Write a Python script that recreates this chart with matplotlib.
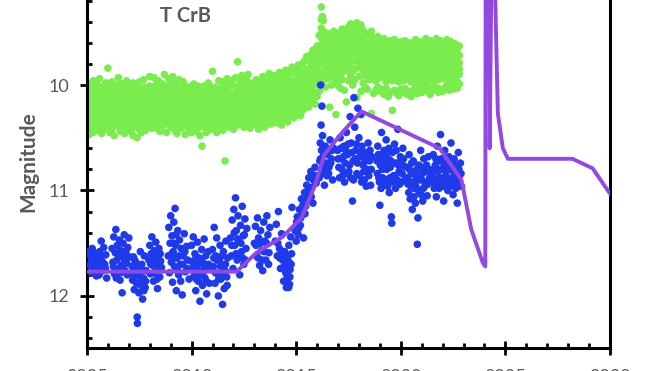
import matplotlib.pyplot as plt
from matplotlib.ticker import MultipleLocator, FormatStrFormatter

plt.rcParams['font.family'] = ['Lato', 'DejaVu Sans']

# green series: (year, several magnitudes observed around that time)
green_bins = [
    (2005.0, 10.03, 10.31, 10.18, 10.44, 10.09, 10.26), (2005.1, 10.21, 9.99, 10.37, 10.12, 10.28, 10.47),
    (2005.2, 10.15, 10.40, 10.06, 10.24, 10.33, 10.01), (2005.3, 10.27, 10.10, 10.45, 10.19, 9.96, 10.35),
    (2005.4, 10.08, 10.22, 10.30, 10.04, 10.41, 10.16), (2005.5, 10.34, 10.13, 10.00, 10.25, 10.43, 10.20),
    (2005.6, 10.19, 10.38, 10.07, 10.29, 10.11, 9.94), (2005.7, 10.02, 10.24, 10.36, 10.15, 10.46, 10.30),
    (2005.8, 10.26, 10.05, 10.17, 10.42, 10.32, 10.10), (2005.9, 10.12, 10.33, 9.98, 10.21, 10.39, 10.27),
    (2006.0, 9.84, 10.18, 10.04, 10.30, 10.14, 10.40), (2006.1, 10.23, 10.09, 10.35, 10.01, 10.28, 10.45),
    (2006.2, 10.06, 10.29, 10.16, 10.42, 9.97, 10.22), (2006.3, 10.31, 10.13, 10.39, 10.20, 10.05, 10.48),
    (2006.4, 10.17, 10.02, 10.26, 10.36, 10.10, 10.32), (2006.5, 10.00, 10.21, 10.12, 10.34, 10.27, 9.93),
    (2006.6, 10.28, 10.08, 10.40, 10.19, 10.44, 10.14), (2006.7, 10.11, 10.35, 9.99, 10.24, 10.06, 10.31),
    (2006.8, 10.20, 10.04, 10.33, 10.46, 10.15, 10.25), (2006.9, 9.96, 10.27, 10.09, 10.38, 10.18, 10.43),
    (2007.0, 10.14, 10.32, 10.01, 10.22, 10.41, 10.07), (2007.1, 10.25, 10.10, 10.44, 10.17, 10.30, 10.03),
    (2007.2, 10.05, 10.19, 10.36, 9.98, 10.28, 10.48), (2007.3, 10.30, 10.12, 10.23, 10.40, 10.07, 10.35),
    (2007.4, 10.16, 10.50, 10.02, 10.27, 10.38, 10.21), (2007.5, 10.09, 10.26, 10.42, 10.13, 9.97, 10.32),
    (2007.6, 10.22, 10.04, 10.34, 10.18, 10.45, 10.11), (2007.7, 9.95, 10.15, 10.29, 10.06, 10.39, 10.24),
    (2007.8, 10.18, 10.37, 10.08, 10.26, 10.02, 10.43), (2007.9, 10.27, 10.03, 10.20, 10.35, 10.13, 10.30),
    (2008.0, 10.01, 10.23, 10.11, 10.38, 10.17, 9.92), (2008.1, 10.14, 10.31, 10.05, 10.41, 10.24, 10.09),
    (2008.2, 10.29, 9.93, 10.18, 10.07, 10.35, 10.22), (2008.3, 10.06, 10.26, 10.39, 10.13, 10.00, 10.31),
    (2008.4, 10.20, 10.10, 9.96, 10.33, 10.16, 10.42), (2008.5, 10.12, 10.36, 10.24, 10.03, 10.44, 10.19),
    (2008.6, 9.99, 10.17, 10.30, 10.08, 10.27, 10.39), (2008.7, 10.23, 9.90, 10.13, 10.35, 10.05, 10.28),
    (2008.8, 10.08, 10.32, 10.19, 10.45, 10.01, 10.15), (2008.9, 10.26, 10.04, 10.37, 9.94, 10.21, 10.11),
    (2009.0, 10.13, 10.29, 10.00, 10.24, 10.40, 10.18), (2009.1, 9.92, 10.20, 10.07, 10.33, 10.14, 10.27),
    (2009.2, 10.17, 10.38, 9.98, 10.25, 10.09, 10.43), (2009.3, 10.04, 10.22, 10.46, 10.14, 10.31, 10.10),
    (2009.4, 10.28, 9.95, 10.16, 10.36, 10.06, 10.23), (2009.5, 10.11, 10.34, 10.02, 10.19, 10.41, 10.26),
    (2009.6, 10.21, 10.07, 10.29, 9.97, 10.38, 10.13), (2009.7, 10.01, 10.25, 10.47, 10.15, 10.33, 10.08),
    (2009.8, 10.30, 10.12, 10.04, 10.40, 10.20, 10.27), (2009.9, 10.16, 10.37, 10.09, 10.24, 10.02, 10.44),
    (2010.0, 10.07, 10.28, 10.45, 10.19, 10.35, 10.12), (2010.1, 10.24, 9.99, 10.15, 10.31, 10.06, 10.40),
    (2010.2, 10.13, 10.36, 10.21, 10.03, 10.44, 10.27), (2010.3, 10.32, 10.09, 10.26, 10.41, 10.17, 10.01),
    (2010.4, 10.05, 10.20, 10.38, 10.12, 10.48, 10.29), (2010.5, 10.18, 10.58, 10.04, 10.30, 10.23, 10.37),
    (2010.6, 10.27, 10.11, 10.40, 10.01, 10.19, 10.33), (2010.7, 10.09, 10.31, 10.16, 10.45, 10.06, 10.24),
    (2010.8, 10.22, 9.98, 10.35, 10.13, 10.28, 10.39), (2010.9, 10.14, 10.26, 10.03, 10.42, 10.19, 10.08),
    (2011.0, 9.87, 10.16, 10.30, 10.07, 10.38, 10.23), (2011.1, 10.20, 10.02, 10.27, 10.13, 10.41, 10.34),
    (2011.2, 10.06, 10.33, 10.18, 10.45, 10.10, 10.24), (2011.3, 10.29, 10.11, 9.96, 10.37, 10.21, 10.15),
    (2011.4, 10.03, 10.25, 10.40, 10.17, 10.31, 10.08), (2011.5, 10.18, 9.97, 10.34, 10.22, 10.12, 10.43),
    (2011.6, 10.26, 10.72, 10.05, 10.38, 10.15, 10.30), (2011.7, 10.10, 10.32, 10.21, 9.94, 10.36, 10.01),
    (2011.8, 10.23, 10.07, 10.40, 10.14, 10.28, 10.18), (2011.9, 9.96, 10.19, 10.30, 10.09, 10.37, 10.25),
    (2012.0, 10.13, 10.34, 10.01, 10.26, 10.17, 10.42), (2012.1, 10.28, 9.93, 10.20, 10.08, 10.36, 10.12),
    (2012.2, 9.78, 10.15, 10.02, 10.31, 10.22, 10.38), (2012.3, 10.09, 10.27, 9.96, 10.18, 10.35, 10.05),
    (2012.4, 10.21, 10.03, 10.33, 10.13, 9.91, 10.26), (2012.5, 10.00, 10.24, 10.40, 10.10, 10.30, 10.17),
    (2012.6, 10.16, 10.36, 10.06, 10.27, 9.95, 10.21), (2012.7, 10.25, 9.90, 10.12, 10.32, 10.04, 10.19),
    (2012.8, 10.07, 10.29, 10.18, 10.41, 10.11, 9.98), (2012.9, 10.19, 10.02, 10.35, 10.14, 10.26, 10.09),
    (2013.0, 9.99, 10.22, 10.10, 10.37, 10.16, 10.31), (2013.1, 10.27, 10.05, 10.19, 9.95, 10.33, 10.13),
    (2013.2, 10.11, 10.38, 10.01, 10.24, 10.42, 10.17), (2013.3, 10.20, 9.97, 10.30, 10.08, 10.15, 10.36),
    (2013.4, 10.04, 10.25, 10.14, 9.92, 10.33, 10.21), (2013.5, 10.30, 10.09, 10.40, 10.18, 9.99, 10.26),
    (2013.6, 10.15, 9.94, 10.22, 10.35, 10.07, 10.11), (2013.7, 9.89, 10.13, 10.28, 10.03, 10.19, 10.32),
    (2013.8, 10.24, 10.06, 9.97, 10.37, 10.15, 10.10), (2013.9, 10.12, 10.31, 9.91, 10.20, 10.04, 10.27),
    (2014.0, 9.98, 10.17, 10.34, 10.08, 10.25, 10.13), (2014.1, 10.21, 9.93, 10.11, 10.30, 10.02, 10.36),
    (2014.2, 10.06, 10.24, 9.88, 10.16, 10.29, 10.00), (2014.3, 10.18, 9.95, 10.33, 10.10, 10.38, 10.22),
    (2014.4, 9.90, 10.12, 10.27, 10.04, 10.19, 10.31), (2014.5, 10.15, 9.86, 10.08, 10.25, 9.99, 10.30),
    (2014.6, 10.02, 10.21, 9.93, 10.35, 10.12, 10.17), (2014.7, 9.87, 10.09, 10.26, 10.01, 10.18, 10.28),
    (2014.8, 10.13, 9.83, 10.04, 10.22, 9.96, 10.27), (2014.9, 9.97, 10.16, 9.89, 10.31, 10.08, 10.20),
    (2015.0, 10.06, 9.85, 10.24, 10.12, 9.98, 10.28), (2015.1, 9.92, 10.10, 9.81, 10.19, 10.03, 10.25),
    (2015.2, 10.14, 9.96, 10.07, 9.87, 10.29, 10.20), (2015.3, 9.80, 10.02, 10.17, 9.93, 10.24, 10.09),
    (2015.4, 10.05, 9.77, 9.98, 10.14, 9.90, 10.22), (2015.5, 9.85, 10.08, 9.73, 10.19, 9.96, 10.02),
    (2015.6, 9.99, 9.76, 10.12, 9.89, 10.05, 10.21), (2015.7, 9.71, 9.93, 10.07, 9.82, 10.16, 10.00),
    (2015.8, 9.88, 9.67, 10.02, 9.79, 9.95, 10.14), (2015.9, 9.75, 9.97, 9.69, 10.08, 9.86, 10.18),
    (2016.0, 9.63, 9.84, 9.99, 9.74, 10.11, 9.92), (2016.1, 9.80, 9.53, 9.95, 9.68, 10.06, 9.88),
    (2016.2, 9.26, 9.46, 9.62, 9.38, 9.80, 9.55), (2016.25, 9.35, 9.72, 9.50, 9.88, 9.61, 9.97),
    (2016.3, 9.58, 9.39, 9.77, 9.49, 9.92, 9.68), (2016.4, 9.66, 9.55, 9.85, 9.73, 10.02, 9.60),
    (2016.5, 9.78, 9.51, 9.94, 9.64, 9.86, 9.58), (2016.6, 9.57, 9.80, 9.69, 10.21, 9.91, 9.63),
    (2016.7, 9.70, 9.52, 9.88, 9.61, 10.00, 9.76), (2016.8, 9.49, 9.74, 9.59, 9.93, 9.67, 9.84),
    (2016.9, 9.63, 9.55, 9.81, 10.28, 9.72, 9.96), (2017.0, 9.51, 9.77, 9.65, 9.90, 9.58, 10.00),
    (2017.1, 9.69, 9.56, 9.84, 9.73, 10.03, 9.62), (2017.2, 9.47, 9.70, 9.59, 9.88, 9.79, 9.95),
    (2017.3, 9.64, 9.53, 9.76, 10.05, 9.68, 9.85), (2017.4, 9.50, 9.72, 9.60, 9.86, 10.16, 9.79),
    (2017.5, 9.66, 9.45, 9.81, 9.57, 9.96, 9.71), (2017.6, 9.42, 9.63, 9.74, 9.54, 9.90, 9.83),
    (2017.7, 9.58, 9.48, 9.77, 9.67, 10.00, 9.87), (2017.8, 9.69, 9.44, 9.61, 9.85, 9.53, 9.95),
    (2017.9, 9.41, 9.62, 9.50, 9.78, 10.12, 9.70), (2018.0, 9.57, 9.46, 9.73, 9.64, 9.92, 9.81),
    (2018.1, 9.43, 9.66, 9.55, 9.84, 10.06, 9.75), (2018.2, 9.60, 9.48, 9.79, 9.69, 9.98, 9.86),
    (2018.3, 9.73, 9.52, 9.64, 9.91, 9.58, 10.02), (2018.4, 9.56, 9.80, 9.67, 9.88, 10.04, 9.74),
    (2018.5, 9.68, 9.51, 9.85, 9.61, 9.95, 9.77), (2018.6, 9.49, 9.72, 9.62, 10.27, 9.83, 9.93),
    (2018.7, 9.64, 9.55, 9.82, 9.71, 10.08, 9.90), (2018.8, 9.78, 9.59, 9.68, 9.96, 9.86, 10.05),
    (2018.9, 9.54, 9.75, 9.64, 9.89, 10.02, 9.70), (2019.0, 9.69, 9.57, 9.84, 9.77, 10.06, 9.93),
    (2019.1, 9.61, 9.82, 9.72, 10.04, 9.90, 9.66), (2019.2, 9.76, 9.56, 9.67, 9.93, 10.09, 9.85),
    (2019.3, 9.59, 9.80, 9.70, 9.97, 9.64, 10.03), (2019.4, 9.73, 9.62, 9.87, 9.79, 10.11, 9.95),
    (2019.5, 9.58, 9.78, 9.68, 10.07, 9.90, 9.83), (2019.6, 9.66, 9.85, 9.75, 10.24, 9.62, 9.96),
    (2019.7, 9.79, 9.57, 9.70, 9.92, 10.05, 9.86), (2019.8, 9.61, 9.82, 9.73, 10.08, 9.95, 9.67),
    (2019.9, 9.74, 9.64, 9.88, 9.80, 10.10, 9.97), (2020.0, 9.59, 9.77, 9.68, 9.93, 10.04, 9.85),
    (2020.1, 9.70, 9.62, 9.84, 9.76, 10.07, 9.96), (2020.2, 9.82, 9.58, 9.72, 9.91, 9.66, 10.03),
    (2020.3, 9.63, 9.80, 9.74, 10.09, 9.88, 9.95), (2020.4, 9.76, 9.60, 9.69, 9.93, 10.06, 9.84),
    (2020.5, 9.65, 9.86, 9.78, 10.11, 9.97, 9.71), (2020.6, 9.80, 9.61, 9.73, 9.90, 10.05, 9.84),
    (2020.7, 9.57, 9.75, 9.66, 9.87, 10.02, 9.94), (2020.8, 9.72, 9.62, 9.85, 9.79, 10.08, 9.96),
    (2020.9, 9.83, 9.59, 9.70, 9.92, 9.65, 10.04), (2021.0, 9.64, 9.81, 9.76, 10.07, 9.89, 9.98),
    (2021.1, 9.77, 9.60, 9.71, 9.94, 10.05, 9.86), (2021.2, 9.56, 9.74, 9.66, 9.88, 10.01, 9.80),
    (2021.3, 9.70, 9.61, 9.84, 9.77, 10.06, 9.95), (2021.4, 9.82, 9.58, 9.73, 9.91, 10.09, 9.67),
    (2021.5, 9.63, 9.79, 9.70, 9.97, 9.87, 10.03), (2021.6, 9.75, 9.59, 9.68, 9.90, 10.05, 9.84),
    (2021.7, 9.56, 9.72, 9.81, 9.64, 10.02, 9.93), (2021.8, 9.69, 9.61, 9.86, 9.76, 10.07, 9.95),
    (2021.9, 9.80, 9.58, 9.72, 9.89, 10.04, 9.66), (2022.0, 9.63, 9.77, 9.70, 9.94, 10.06, 9.85),
    (2022.1, 9.74, 9.60, 9.83, 9.68, 10.03, 9.92), (2022.2, 9.57, 9.79, 9.71, 9.88, 10.00, 9.64),
    (2022.3, 9.69, 9.62, 9.86, 9.78, 10.05, 9.95), (2022.4, 9.81, 9.59, 9.73, 9.91, 10.02, 9.66),
    (2022.5, 9.64, 9.77, 9.70, 9.97, 9.86, 10.04), (2022.6, 9.72, 9.61, 9.89, 9.80, 10.01, 9.93),
    (2022.7, 9.66, 9.84, 9.75, 9.97, 10.03, 9.70), (2022.8, 9.79, 9.63, 9.72, 9.90, 9.99, 9.85),
]

# blue series: (year, magnitude)
blue_points = [
    (2005.13, 11.57), (2005.15, 11.71), (2005.18, 11.62), (2005.22, 11.78), (2005.25, 11.55),
    (2005.28, 11.66), (2005.33, 11.74), (2005.37, 11.60), (2005.42, 11.69), (2005.45, 11.81),
    (2005.50, 11.63), (2005.55, 11.72), (2005.60, 11.58), (2005.68, 11.48), (2005.72, 11.67),
    (2005.76, 11.76), (2005.80, 11.54), (2005.85, 11.70), (2005.90, 11.61), (2005.94, 11.83),
    (2006.20, 11.55), (2006.24, 11.68), (2006.28, 11.44), (2006.31, 11.79), (2006.35, 11.59),
    (2006.38, 11.37), (2006.42, 11.66), (2006.45, 11.52), (2006.48, 11.74), (2006.52, 11.62),
    (2006.55, 11.47), (2006.58, 11.85), (2006.62, 11.57), (2006.65, 11.71), (2006.68, 11.97),
    (2006.72, 11.50), (2006.75, 11.64), (2006.78, 11.42), (2006.82, 11.76), (2006.86, 11.58),
    (2006.90, 11.69), (2006.95, 11.54), (2007.00, 11.45), (2007.04, 11.63),
    (2007.15, 11.72), (2007.18, 11.85), (2007.22, 11.63), (2007.26, 11.94), (2007.30, 11.78),
    (2007.33, 11.68), (2007.37, 11.88), (2007.40, 12.20), (2007.41, 12.26), (2007.44, 11.81),
    (2007.48, 11.97), (2007.52, 11.74), (2007.55, 11.58), (2007.58, 11.90), (2007.62, 11.70),
    (2007.66, 12.03), (2007.70, 11.83), (2007.74, 11.62), (2007.78, 11.92), (2007.82, 11.76),
    (2007.96, 11.66), (2008.00, 11.52), (2008.03, 11.79), (2008.07, 11.60), (2008.10, 11.44),
    (2008.14, 11.71), (2008.18, 11.86), (2008.21, 11.57), (2008.25, 11.68), (2008.29, 11.49),
    (2008.33, 11.75), (2008.37, 11.93), (2008.40, 11.62), (2008.44, 11.55), (2008.48, 11.82),
    (2008.52, 11.67), (2008.56, 11.73),
    (2008.88, 11.62), (2008.91, 11.35), (2008.94, 11.78), (2008.97, 11.50), (2009.00, 11.24),
    (2009.03, 11.68), (2009.06, 11.43), (2009.09, 11.87), (2009.12, 11.58), (2009.15, 11.30),
    (2009.18, 11.72), (2009.21, 11.17), (2009.24, 11.52), (2009.27, 11.95), (2009.30, 11.64),
    (2009.34, 11.38), (2009.38, 11.80), (2009.42, 11.47), (2009.46, 11.70), (2009.50, 11.55),
    (2009.55, 11.99), (2009.60, 11.62), (2009.65, 11.41), (2009.70, 11.77), (2009.76, 11.53),
    (2009.82, 11.66), (2009.88, 11.84),
    (2010.00, 11.52), (2010.04, 11.68), (2010.08, 11.44), (2010.12, 11.81), (2010.16, 11.60),
    (2010.20, 11.95), (2010.24, 11.73), (2010.28, 11.49), (2010.32, 11.86), (2010.36, 11.64),
    (2010.40, 12.05), (2010.44, 11.77), (2010.48, 11.56), (2010.52, 11.90), (2010.56, 11.69),
    (2010.60, 11.46), (2010.64, 11.83), (2010.68, 11.62), (2010.72, 11.98), (2010.76, 11.74),
    (2010.80, 11.58), (2010.85, 11.88),
    (2011.00, 11.56), (2011.04, 11.72), (2011.08, 11.35), (2011.12, 11.88), (2011.16, 11.62),
    (2011.20, 11.45), (2011.24, 11.79), (2011.28, 12.00), (2011.32, 11.66), (2011.36, 11.52),
    (2011.40, 11.84), (2011.44, 11.70), (2011.48, 12.08), (2011.52, 11.58), (2011.56, 11.93),
    (2011.60, 11.76), (2011.64, 11.48), (2011.68, 11.82), (2011.72, 11.64),
    (2011.86, 11.45), (2011.90, 11.62), (2011.94, 11.28), (2011.98, 11.74), (2012.02, 11.18),
    (2012.06, 11.52), (2012.10, 11.07), (2012.14, 11.38), (2012.18, 11.66), (2012.22, 11.24),
    (2012.26, 11.48), (2012.30, 11.80), (2012.34, 11.33), (2012.38, 11.58), (2012.42, 11.15),
    (2012.46, 11.43), (2012.50, 11.70), (2012.55, 11.27), (2012.60, 11.55), (2012.64, 11.36),
    (2013.00, 11.50), (2013.05, 11.34), (2013.10, 11.62), (2013.15, 11.26), (2013.20, 11.45),
    (2013.25, 11.71), (2013.30, 11.38), (2013.35, 11.57), (2013.40, 11.76), (2013.45, 11.30),
    (2013.50, 11.48), (2013.55, 11.66), (2013.60, 11.24), (2013.65, 11.42), (2013.70, 11.59),
    (2013.74, 11.35),
    (2014.00, 11.48), (2014.05, 11.32), (2014.10, 11.62), (2014.15, 11.20), (2014.20, 11.55),
    (2014.25, 11.74), (2014.30, 11.41), (2014.35, 11.66), (2014.40, 11.86), (2014.45, 11.58),
    (2014.50, 11.78), (2014.53, 11.92), (2014.56, 11.70), (2014.59, 11.84), (2014.62, 11.62),
    (2014.65, 11.52), (2014.68, 11.89), (2014.71, 11.75), (2014.74, 11.44), (2014.78, 11.60),
    (2014.80, 11.16),
    (2014.95, 11.38), (2015.00, 11.48), (2015.05, 11.25), (2015.10, 11.42), (2015.15, 11.18),
    (2015.20, 11.33), (2015.25, 11.08), (2015.30, 11.22), (2015.35, 11.45), (2015.40, 11.02),
    (2015.45, 11.15), (2015.50, 10.95), (2015.55, 11.10), (2015.60, 10.88), (2015.65, 11.03),
    (2015.70, 10.82), (2015.75, 10.97), (2015.80, 11.12), (2015.85, 10.86), (2015.90, 10.78),
    (2015.95, 10.93),
    (2016.10, 10.88), (2016.13, 10.72), (2016.15, 10.55), (2016.17, 10.00), (2016.19, 10.38),
    (2016.21, 10.62), (2016.23, 10.20), (2016.26, 10.48), (2016.29, 10.80), (2016.32, 10.66),
    (2016.35, 10.95), (2016.39, 10.58), (2016.43, 10.74), (2016.47, 10.86), (2016.52, 10.64),
    (2016.57, 10.78), (2016.62, 10.52), (2016.68, 10.70), (2016.74, 10.90), (2016.80, 10.60),
    (2016.98, 10.62), (2017.04, 10.78), (2017.10, 10.50), (2017.16, 10.70), (2017.22, 10.86),
    (2017.28, 10.58), (2017.34, 10.74), (2017.40, 10.45), (2017.46, 10.66), (2017.52, 10.82),
    (2017.58, 10.30), (2017.63, 10.55), (2017.69, 11.10), (2017.72, 10.72), (2017.76, 10.12),
    (2017.80, 10.40), (2017.85, 10.62), (2017.90, 10.84), (2017.95, 10.22), (2018.00, 10.50),
    (2018.05, 10.68), (2018.10, 10.28), (2018.15, 10.58), (2018.20, 10.76), (2018.26, 10.90),
    (2018.32, 10.64), (2018.38, 10.80), (2018.44, 10.55), (2018.50, 10.72), (2018.56, 10.95),
    (2018.62, 10.68),
    (2018.86, 10.72), (2018.90, 10.58), (2018.95, 10.88), (2019.00, 11.14), (2019.04, 10.66),
    (2019.08, 10.45), (2019.12, 10.80), (2019.16, 10.95), (2019.20, 10.62), (2019.25, 10.74),
    (2019.30, 10.52), (2019.35, 10.90), (2019.40, 10.70), (2019.45, 11.02), (2019.50, 10.78),
    (2019.55, 11.25), (2019.57, 11.31), (2019.60, 10.64), (2019.65, 10.86), (2019.70, 10.56),
    (2019.75, 10.98), (2019.80, 10.74), (2019.86, 10.42), (2019.92, 10.82), (2019.98, 10.68),
    (2020.04, 10.92), (2020.10, 10.60), (2020.16, 10.77),
    (2020.30, 10.78), (2020.35, 10.94), (2020.40, 10.66), (2020.45, 11.08), (2020.50, 10.84),
    (2020.55, 11.18), (2020.60, 10.72), (2020.65, 10.98), (2020.70, 11.12), (2020.74, 10.88),
    (2020.79, 11.51), (2020.82, 11.26), (2020.86, 10.76), (2020.90, 11.02), (2020.95, 10.62),
    (2021.00, 10.90), (2021.05, 11.10), (2021.10, 10.70), (2021.15, 10.96), (2021.20, 10.82),
    (2021.26, 11.05), (2021.32, 10.68), (2021.38, 10.88),
    (2021.50, 10.84), (2021.55, 10.66), (2021.60, 10.98), (2021.65, 10.76), (2021.70, 11.06),
    (2021.75, 10.58), (2021.80, 10.88), (2021.85, 10.72), (2021.90, 10.47), (2021.95, 10.94),
    (2022.00, 10.80), (2022.05, 11.10), (2022.10, 10.62), (2022.15, 10.86), (2022.20, 10.74),
    (2022.25, 11.00), (2022.30, 10.68), (2022.35, 10.90), (2022.40, 10.55), (2022.45, 10.80),
    (2022.50, 11.04), (2022.55, 10.70), (2022.60, 10.92), (2022.65, 10.78), (2022.70, 11.12),
    (2022.75, 10.64), (2022.80, 10.86), (2022.85, 10.74), (2022.90, 10.96),
]

# more blue observations in the crowded core of each season
blue_core = [
    (2005.20, 11.68), (2005.30, 11.59), (2005.40, 11.75), (2005.48, 11.66), (2005.58, 11.80),
    (2005.64, 11.62), (2005.88, 11.74),
    (2006.26, 11.72), (2006.40, 11.83), (2006.50, 11.60), (2006.60, 11.78), (2006.70, 11.62),
    (2006.80, 11.68), (2006.92, 11.80),
    (2007.20, 11.80), (2007.28, 11.66), (2007.35, 11.74), (2007.46, 11.88), (2007.56, 11.82),
    (2007.64, 11.76), (2007.72, 11.95), (2007.80, 11.86),
    (2008.05, 11.70), (2008.12, 11.62), (2008.20, 11.78), (2008.28, 11.64), (2008.35, 11.84),
    (2008.42, 11.72), (2008.50, 11.60),
    (2009.05, 11.60), (2009.14, 11.50), (2009.20, 11.64), (2009.26, 11.42), (2009.32, 11.74),
    (2009.40, 11.62), (2009.48, 11.86), (2009.58, 11.70), (2009.68, 11.58), (2009.80, 11.74),
    (2010.06, 11.74), (2010.14, 11.66), (2010.22, 11.84), (2010.30, 11.70), (2010.38, 11.80),
    (2010.46, 11.66), (2010.54, 11.78), (2010.62, 11.72), (2010.70, 11.86), (2010.82, 11.70),
    (2011.06, 11.64), (2011.14, 11.78), (2011.22, 11.66), (2011.30, 11.84), (2011.38, 11.72),
    (2011.46, 11.62), (2011.54, 11.80), (2011.62, 11.70), (2011.70, 11.90),
    (2011.92, 11.52), (2012.04, 11.40), (2012.12, 11.60), (2012.20, 11.46), (2012.28, 11.62),
    (2012.36, 11.50), (2012.44, 11.64), (2012.52, 11.42), (2012.58, 11.66),
    (2013.08, 11.52), (2013.18, 11.64), (2013.28, 11.50), (2013.38, 11.66), (2013.48, 11.58),
    (2013.58, 11.50), (2013.68, 11.70),
    (2014.12, 11.50), (2014.22, 11.64), (2014.32, 11.58), (2014.42, 11.72), (2014.48, 11.64),
    (2014.55, 11.80), (2014.60, 11.74), (2014.64, 11.92), (2014.66, 11.68), (2014.70, 11.82),
    (2014.76, 11.70),
    (2015.02, 11.30), (2015.12, 11.36), (2015.22, 11.26), (2015.32, 11.14), (2015.42, 11.22),
    (2015.52, 11.04), (2015.62, 10.98), (2015.72, 11.06), (2015.82, 10.90), (2015.92, 10.86),
    (2016.16, 10.70), (2016.24, 10.84), (2016.30, 10.58), (2016.37, 10.76), (2016.45, 10.66),
    (2016.55, 10.84), (2016.65, 10.74), (2016.72, 10.62),
    (2017.00, 10.70), (2017.07, 10.88), (2017.13, 10.60), (2017.19, 10.80), (2017.25, 10.68),
    (2017.31, 10.92), (2017.37, 10.62), (2017.43, 10.84), (2017.49, 10.56), (2017.55, 10.76),
    (2017.61, 10.88), (2017.66, 10.64), (2017.74, 10.90), (2017.82, 10.70), (2017.88, 10.56),
    (2017.93, 10.74), (2018.02, 10.86), (2018.08, 10.64), (2018.13, 10.92), (2018.18, 10.66),
    (2018.23, 10.82), (2018.29, 10.72), (2018.35, 10.96), (2018.41, 10.68), (2018.47, 10.86),
    (2018.53, 10.62), (2018.59, 10.80),
    (2018.88, 10.84), (2018.93, 10.66), (2018.98, 10.92), (2019.02, 10.76), (2019.06, 10.98),
    (2019.10, 10.70), (2019.14, 10.88), (2019.18, 10.76), (2019.23, 10.90), (2019.28, 10.66),
    (2019.33, 10.80), (2019.38, 10.96), (2019.43, 10.60), (2019.48, 10.88), (2019.53, 10.72),
    (2019.62, 10.92), (2019.68, 10.74), (2019.73, 10.86), (2019.78, 10.62), (2019.83, 10.90),
    (2019.89, 10.76), (2019.95, 10.94), (2020.01, 10.72), (2020.07, 10.84), (2020.13, 10.70),
    (2020.19, 10.90),
    (2020.32, 10.88), (2020.38, 11.02), (2020.42, 10.80), (2020.48, 10.96), (2020.52, 10.74),
    (2020.58, 10.92), (2020.63, 11.06), (2020.68, 10.84), (2020.72, 10.96), (2020.77, 10.80),
    (2020.84, 11.00), (2020.88, 10.90), (2020.93, 10.80), (2020.98, 11.04), (2021.03, 10.84),
    (2021.08, 10.98), (2021.13, 10.78), (2021.18, 10.92), (2021.23, 10.76), (2021.29, 10.94),
    (2021.35, 10.80),
    (2021.52, 10.92), (2021.58, 10.80), (2021.62, 10.90), (2021.68, 10.70), (2021.72, 10.94),
    (2021.78, 10.82), (2021.83, 10.98), (2021.88, 10.80), (2021.93, 10.70), (2021.98, 10.88),
    (2022.03, 10.96), (2022.08, 10.76), (2022.12, 10.92), (2022.18, 10.82), (2022.23, 10.90),
    (2022.28, 10.80), (2022.33, 10.96), (2022.38, 10.72), (2022.43, 10.88), (2022.48, 10.94),
    (2022.53, 10.82), (2022.58, 10.76), (2022.63, 10.98), (2022.68, 10.86), (2022.73, 10.92),
    (2022.78, 10.80), (2022.83, 10.96), (2022.88, 10.84),
]

# purple template curve (peaks go off the top of the plot)
curve_years = [2005.0, 2012.15, 2013.1, 2014.35, 2015.25, 2015.9, 2016.35, 2017.2, 2018.12,
               2021.86, 2022.9, 2023.37, 2023.93, 2024.04, 2024.10, 2024.25, 2024.38,
               2024.64, 2024.88, 2025.12, 2028.21, 2029.17, 2030.0]
curve_mags = [11.77, 11.77, 11.59, 11.44, 11.26, 10.95, 10.66, 10.45, 10.25,
              10.60, 10.90, 11.37, 11.69, 11.72, 2.0, 10.60, 8.0,
              10.27, 10.60, 10.70, 10.70, 10.79, 11.03]

green_t = [row[0] for row in green_bins for _ in row[1:]]
green_m = [m for row in green_bins for m in row[1:]]
blue_all = blue_points + blue_core
blue_t = [p[0] for p in blue_all]
blue_m = [p[1] for p in blue_all]

fig = plt.figure(figsize=(6.59, 3.71), dpi=100)
ax = fig.add_axes([0.132, 0.063, 0.7936, 0.937])

ax.scatter(green_t, green_m, s=30, color='#7BEC4E', edgecolors='none', zorder=2)
ax.scatter(blue_t, blue_m, s=30, color='#1E3AEA', edgecolors='none', zorder=3)
ax.plot(curve_years, curve_mags, color='#9448E2', lw=2.8, zorder=4)

ax.set_xlim(2005, 2030)
ax.set_ylim(12.49, 9.194)

ax.spines['top'].set_visible(False)
for side in ['left', 'right', 'bottom']:
    ax.spines[side].set_linewidth(2.2)

ax.xaxis.set_major_locator(MultipleLocator(5))
ax.xaxis.set_minor_locator(MultipleLocator(1))
ax.yaxis.set_major_locator(MultipleLocator(1))
ax.yaxis.set_minor_locator(MultipleLocator(0.2))
ax.xaxis.set_major_formatter(FormatStrFormatter('%d'))
ax.yaxis.set_major_formatter(FormatStrFormatter('%d'))

ax.tick_params(which='major', direction='inout', length=9.5, width=2,
               labelsize=13, labelcolor='#595959', pad=8)
ax.tick_params(axis='x', which='major', pad=10.5)
ax.tick_params(which='minor', direction='in', length=3.6, width=2)
ax.tick_params(which='both', top=False, right=False)

fig.text(28 / 659, 1 - 162 / 371, 'Magnitude', rotation=90, fontsize=15,
         fontweight='bold', color='#595959', ha='center', va='center')
fig.text(186 / 659, 1 - 15.5 / 371, 'T CrB', fontsize=14.5,
         fontweight='bold', color='#595959', ha='center', va='center')

fig.savefig('out.png', dpi=100)
